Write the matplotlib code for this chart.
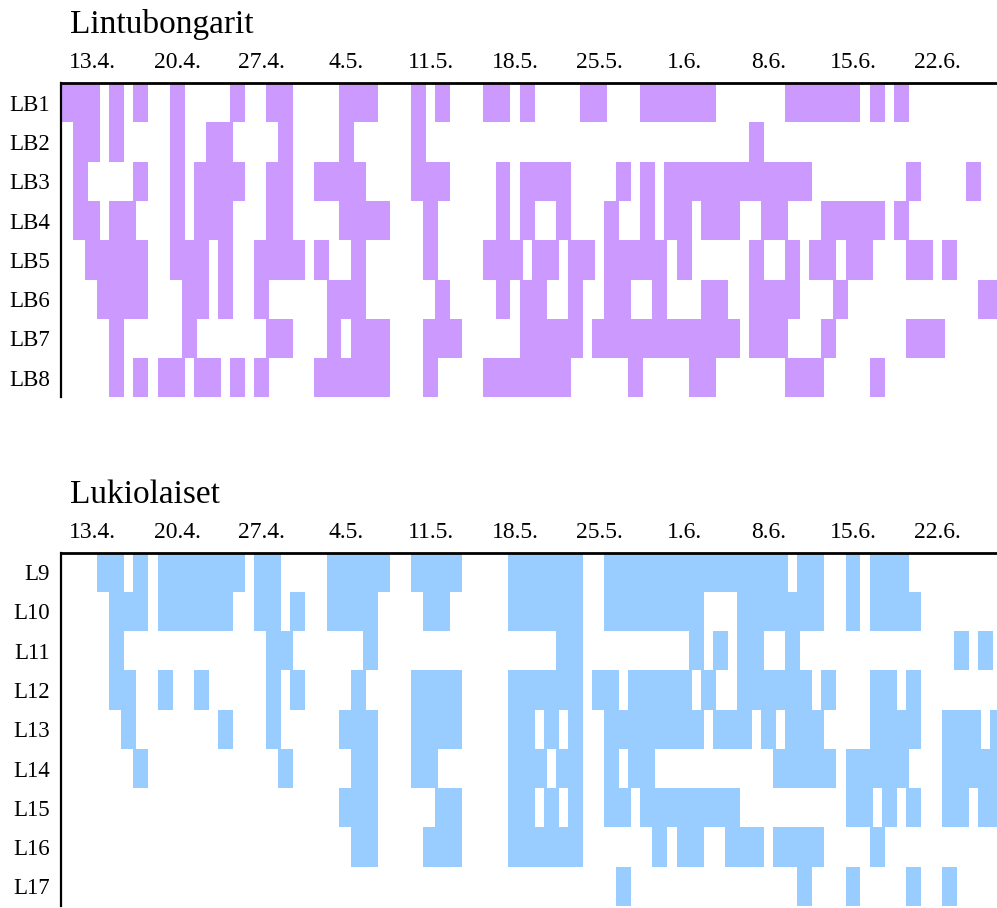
import matplotlib.pyplot as plt

# Päivät indeksoitu alkaen 11.4. (indeksi 0). '#' = aktiivinen päivä, välilyönnit erottavat viikot
tick_days = [2, 9, 16, 23, 30, 37, 44, 51, 58, 65, 72]
tick_labels = ['13.4.', '20.4.', '27.4.', '4.5.', '11.5.', '18.5.', '25.5.',
               '1.6.', '8.6.', '15.6.', '22.6.']

lb_names = ['LB1', 'LB2', 'LB3', 'LB4', 'LB5', 'LB6', 'LB7', 'LB8']
lb_rows = [
    "###.#.# ..#.... #..##.. ..###.. .#.#... ##.#... .##...# #####.. ....### ###.#.# ....... .",
    ".##.#.. ..#..## ....#.. ..#.... .#..... ....... ....... ....... .#..... ....... ....... .",
    ".#....# ..#.### #..##.. ####... .###... .#.#### ....#.# .###### ######. ....... #....#. .",
    ".##.##. ..#.### ...##.. ..####. ..#.... .#.#..# ...#..# .##.### ..##... #####.# ....... .",
    "..##### ..###.# ..####. #..#... ..#.... ###.##. ##.#### #.#.... .#..#.# #.##... ##.#... .",
    "...#### ...##.# ..#.... .###... ...#... .#.##.. #..##.. #...##. .####.. .#..... ......# #",
    "....#.. ...#... ...##.. .#.###. ..###.. ...#### #.##### ####### .###... #...... ###.... .",
    "....#.# .##.##. #.#.... ######. ..#.... ####### .....#. ...##.. ....### ....#.. ....... .",
]

l_names = ['L9', 'L10', 'L11', 'L12', 'L13', 'L14', 'L15', 'L16', 'L17']
l_rows = [
    "...##.# .###### #.##... .#####. .####.. ..##### #..#### ####### ####.## ..#.### ....... .",
    "....### .###### ..##.#. .####.. ..##... ..##### #..#### ####... ####### ..#.### #...... .",
    "....#.. ....... ...##.. ....#.. ....... ......# #...... ...#.#. ##..#.. ....... ....#.# .",
    "....##. .#..#.. ...#.#. ...#... .####.. ..##### #.##.## ###.#.. ######. #...##. #...... .",
    ".....#. ......# ...#... ..###.. .####.. ..##.#. #..#### ####.## #.#.### ....### #..###. #",
    "......# ....... ....#.. ...##.. .##.... ..###.# #..#.## ....... ...#### #.##### ...#### #",
    "....... ....... ....... ..###.. ...##.. ..##.#. #..##.# ####### ....... ..##.#. #..##.# #",
    "....... ....... ....... ...##.. ..###.. ..##### #...... #.##..# ##.#### ....#.. ....... .",
    "....... ....... ....... ....... ....... ....... ....#.. ....... .....#. ..#.... #..#... .",
]

W, H = 997, 908


def draw_panel(box, title, title_y, names, rows, color):
    left, top, bottom = box
    ax = plt.gcf().add_axes([left / W, 1 - bottom / H, (W - left) / W, (bottom - top) / H])
    for i, row in enumerate(rows):
        cells = row.replace(' ', '')
        days = [d for d, c in enumerate(cells) if c == '#']
        ax.bar(days, 1, width=1.24, bottom=i, color=color, linewidth=0)
    ax.set_xlim(-0.62, 76.93)
    ax.set_ylim(len(rows), 0)
    ax.set_yticks([i + 0.5 for i in range(len(rows))])
    ax.set_yticklabels(names)
    ax.xaxis.tick_top()
    ax.set_xticks(tick_days)
    ax.set_xticklabels(tick_labels)
    ax.tick_params(axis='x', length=0, pad=7, labelsize=17)
    ax.tick_params(axis='y', length=0, pad=8, labelsize=16.5)
    for s in ['right', 'bottom']:
        ax.spines[s].set_visible(False)
    ax.spines['top'].set_linewidth(2)
    ax.spines['left'].set_linewidth(1.6)
    plt.gcf().text(70 / W, 1 - title_y / H, title, fontsize=24, va='baseline', ha='left')
    return ax


plt.rcParams['font.family'] = ['Liberation Serif', 'DejaVu Serif']
fig = plt.figure(figsize=(W / 100, H / 100), dpi=100)

draw_panel((61, 83, 397.4), 'Lintubongarit', 33, lb_names, lb_rows, '#cc99ff')
draw_panel((61, 552.5, 906), 'Lukiolaiset', 503, l_names, l_rows, '#99ccff')

fig.savefig('out.png', dpi=100)
